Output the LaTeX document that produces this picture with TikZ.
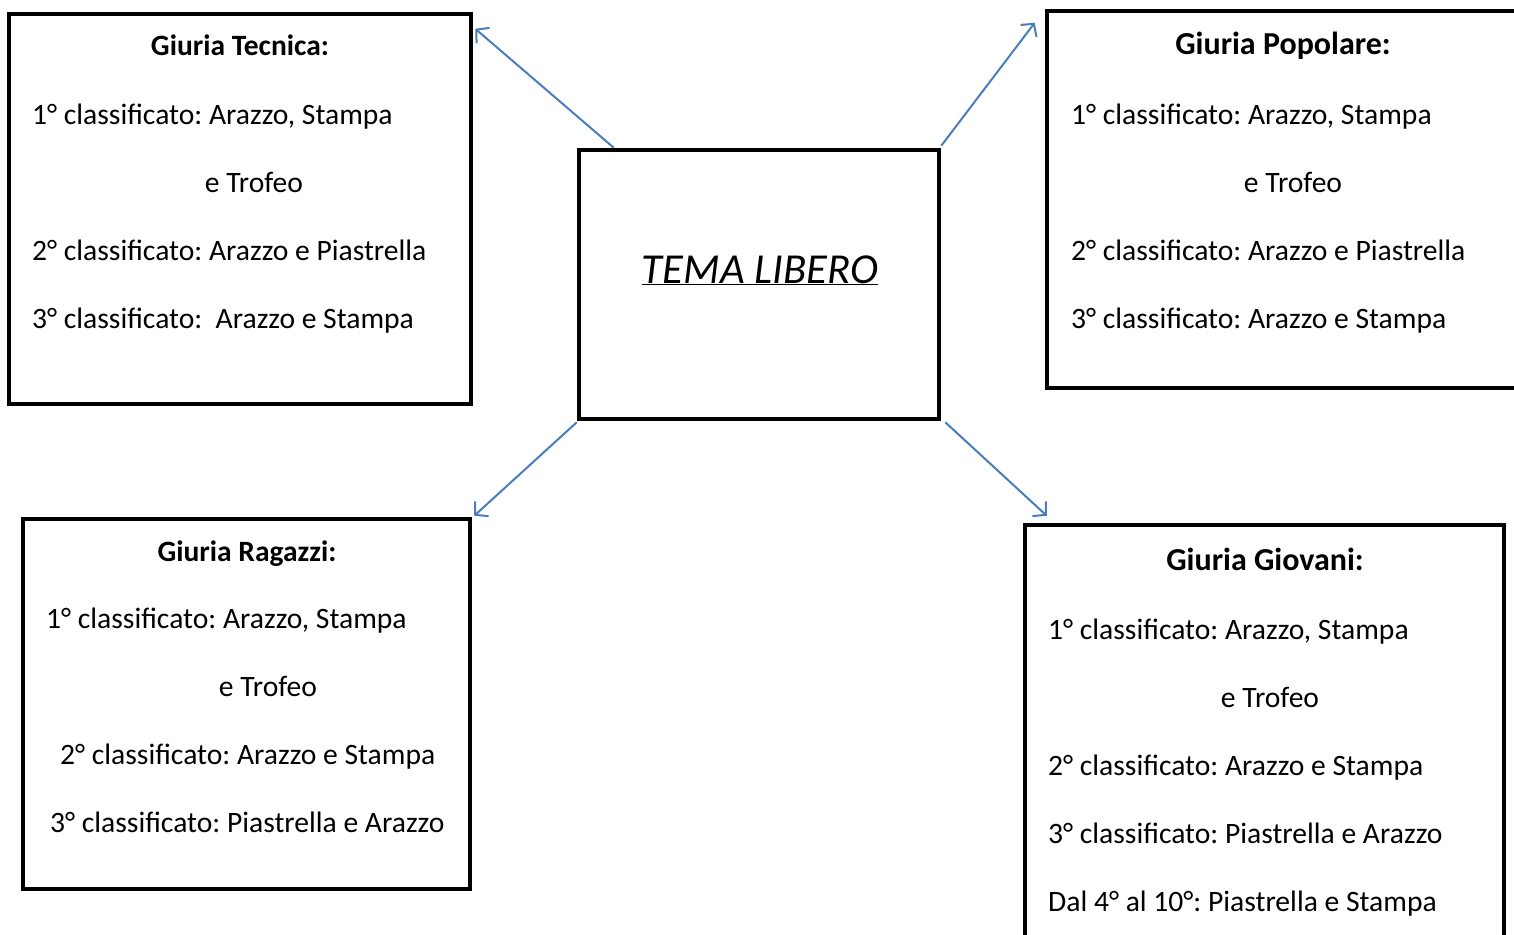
\documentclass[tikz,border=0pt]{standalone}
\usepackage{fontspec}
\setmainfont{Carlito}
\usetikzlibrary{arrows.meta}
\definecolor{arrowblue}{HTML}{4A7EBB}
\frenchspacing
\tikzset{
  box/.style={draw=black, line width=4.5pt, inner sep=0pt},
  conn/.style={draw=arrowblue, line width=2pt, -{Straight Barb[length=9pt,width=20pt,line width=2pt]}},
  txt/.style={anchor=base west, inner sep=0pt, font=\fontsize{29.6}{33}\selectfont},
  ttl/.style={anchor=base, inner sep=0pt, font=\fontsize{29.5}{33}\selectfont\bfseries},
  bigttl/.style={anchor=base, inner sep=0pt, font=\fontsize{32}{36}\selectfont\bfseries},
  mid/.style={anchor=base, inner sep=0pt, font=\fontsize{29.6}{33}\selectfont},
}
\begin{document}
\begin{tikzpicture}[x=1pt,y=-1pt]
\useasboundingbox (0,0) rectangle (1514,934);
\clip (0,0) rectangle (1514,934);
% boxes
\node[box, minimum width=462pt, minimum height=390pt] (tec) at (240,209) {};
\node[box, minimum width=483pt, minimum height=377pt] (pop) at (1288.5,199.5) {};
\node[box, minimum width=360pt, minimum height=269pt] (cen) at (759,284.5) {};
\node[box, minimum width=447pt, minimum height=370pt] (rag) at (246.5,704) {};
\node[box, minimum width=479pt, minimum height=435pt] (gio) at (1264.5,742.5) {};
% center text
\node[anchor=base, inner sep=0pt, font=\fontsize{42.7}{46}\selectfont\itshape] (tl) at (760,283) {\underline{TEMA LIBERO}};
% Tecnica
\node[ttl] (t0) at (240,56) {Giuria Tecnica:};
\node[txt] (t1) at (32,124) {1° classificato: Arazzo, Stampa};
\node[mid] (t2) at (254,192) {e Trofeo};
\node[txt] (t3) at (32,260) {2° classificato: Arazzo e Piastrella};
\node[txt] (t4) at (32,328) {3° classificato:\ \ Arazzo e Stampa};
% Popolare
\node[bigttl] (p0) at (1283,55) {Giuria Popolare:};
\node[txt] (p1) at (1071,124) {1° classificato: Arazzo, Stampa};
\node[mid] (p2) at (1293,192) {e Trofeo};
\node[txt] (p3) at (1071,260) {2° classificato: Arazzo e Piastrella};
\node[txt] (p4) at (1071,328) {3° classificato: Arazzo e Stampa};
% Ragazzi
\node[ttl] (r0) at (247,561) {Giuria Ragazzi:};
\node[txt] (r1) at (46,628) {1° classificato: Arazzo, Stampa};
\node[mid] (r2) at (268,696) {e Trofeo};
\node[txt] (r3) at (60,764) {2° classificato: Arazzo e Stampa};
\node[txt] (r4) at (50,832) {3° classificato: Piastrella e Arazzo};
% Giovani
\node[bigttl] (g0) at (1265,570) {Giuria Giovani:};
\node[txt] (g1) at (1048,639) {1° classificato: Arazzo, Stampa};
\node[mid] (g2) at (1270,707) {e Trofeo};
\node[txt] (g3) at (1048,775) {2° classificato: Arazzo e Stampa};
\node[txt] (g4) at (1048,843) {3° classificato: Piastrella e Arazzo};
\node[txt] (g5) at (1048,911) {Dal 4° al 10°: Piastrella e Stampa};
% connectors
\draw[conn] ([xshift=37pt]cen.north west) -- ([xshift=2pt,yshift=-17pt]tec.north east);
\draw[conn] ([yshift=2pt]cen.north east) -- ([xshift=-10pt,yshift=-14pt]pop.north west);
\draw[conn] ([yshift=-1pt]cen.south west) -- ([xshift=2pt,yshift=1pt]rag.north east);
\draw[conn] ([xshift=4pt,yshift=-1pt]cen.south east) -- ([xshift=24pt,yshift=7pt]gio.north west);
\end{tikzpicture}
\end{document}
